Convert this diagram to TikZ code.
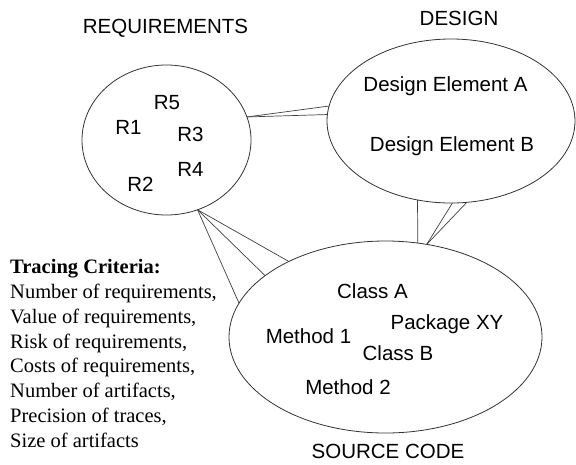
\documentclass[tikz,border=0pt]{standalone}
\usepackage{fontspec}
\setmainfont{Liberation Serif}
\setsansfont{Liberation Sans}
\usetikzlibrary{shapes.geometric}
\begin{document}
\begin{tikzpicture}[x=1pt,y=-1pt,
  blob/.style={ellipse,draw=black!80,line width=0.8pt,inner sep=0pt,outer sep=0pt},
  lbl/.style={font=\sffamily\fontsize{20.5}{24}\selectfont,inner sep=0pt,anchor=base,text=black},
  crit/.style={font=\rmfamily\fontsize{20.5}{24}\selectfont,inner sep=0pt,anchor=base west,text=black},
  link/.style={draw=black!75,line width=0.7pt}]
\useasboundingbox[fill=white] (0,0) rectangle (576,464);

% ellipses
\node[blob,minimum width=169pt,minimum height=150pt] (req) at (166.5,140) {};
\node[blob,minimum width=248pt,minimum height=164pt] (des) at (451,121) {};
\node[blob,minimum width=313pt,minimum height=192pt] (src) at (385.5,337) {};

% titles
\node[lbl] (treq) at (165.5,33.5) {REQUIREMENTS};
\node[lbl] (tdes) at (459,25) {DESIGN};
\node[lbl] (tsrc) at (388,458.3) {SOURCE CODE};

% requirements
\node[lbl] (r5) at (167,109) {R5};
\node[lbl] (r1) at (128.5,134.5) {R1};
\node[lbl] (r3) at (190.5,141.7) {R3};
\node[lbl] (r4) at (190.5,176.7) {R4};
\node[lbl] (r2) at (140.5,191.7) {R2};

% design
\node[lbl] (dea) at (445.5,91.7) {Design Element A};
\node[lbl] (deb) at (452,151.7) {Design Element B};

% source
\node[lbl] (ca) at (372.5,298.3) {Class A};
\node[lbl] (pxy) at (447,329.3) {Package XY};
\node[lbl] (m1) at (308.5,343.3) {Method 1};
\node[lbl] (cb) at (398,360.7) {Class B};
\node[lbl] (m2) at (348,394) {Method 2};

% connectors
\draw[link] (req.16.6) -- (des.173);
\draw[link] (req.16.6) -- (des.177.7);
\draw[link] (des.-113.3) -- (src.71.5);
\draw[link] (des.-89.3) -- (src.66.4);
\draw[link] (des.-79.6) -- (src.66.4);
\draw[link] (req.-66.2) -- (src.142.1);
\draw[link] (req.-66.2) -- (src.153.9);
\draw[link] (req.-66.2) -- (src.167.9);

% tracing criteria
\node[crit,font=\rmfamily\bfseries\fontsize{20.5}{24}\selectfont] (tc0) at (10,273.3) {Tracing Criteria:};
\node[crit] (tc1) at (10,298.2) {Number of requirements,};
\node[crit] (tc2) at (10,323.1) {Value of requirements,};
\node[crit] (tc3) at (10,348) {Risk of requirements,};
\node[crit] (tc4) at (10,372.9) {Costs of requirements,};
\node[crit] (tc5) at (10,397.8) {Number of artifacts,};
\node[crit] (tc6) at (10,422.7) {Precision of traces,};
\node[crit] (tc7) at (10,447.6) {Size of artifacts};
\end{tikzpicture}
\end{document}
